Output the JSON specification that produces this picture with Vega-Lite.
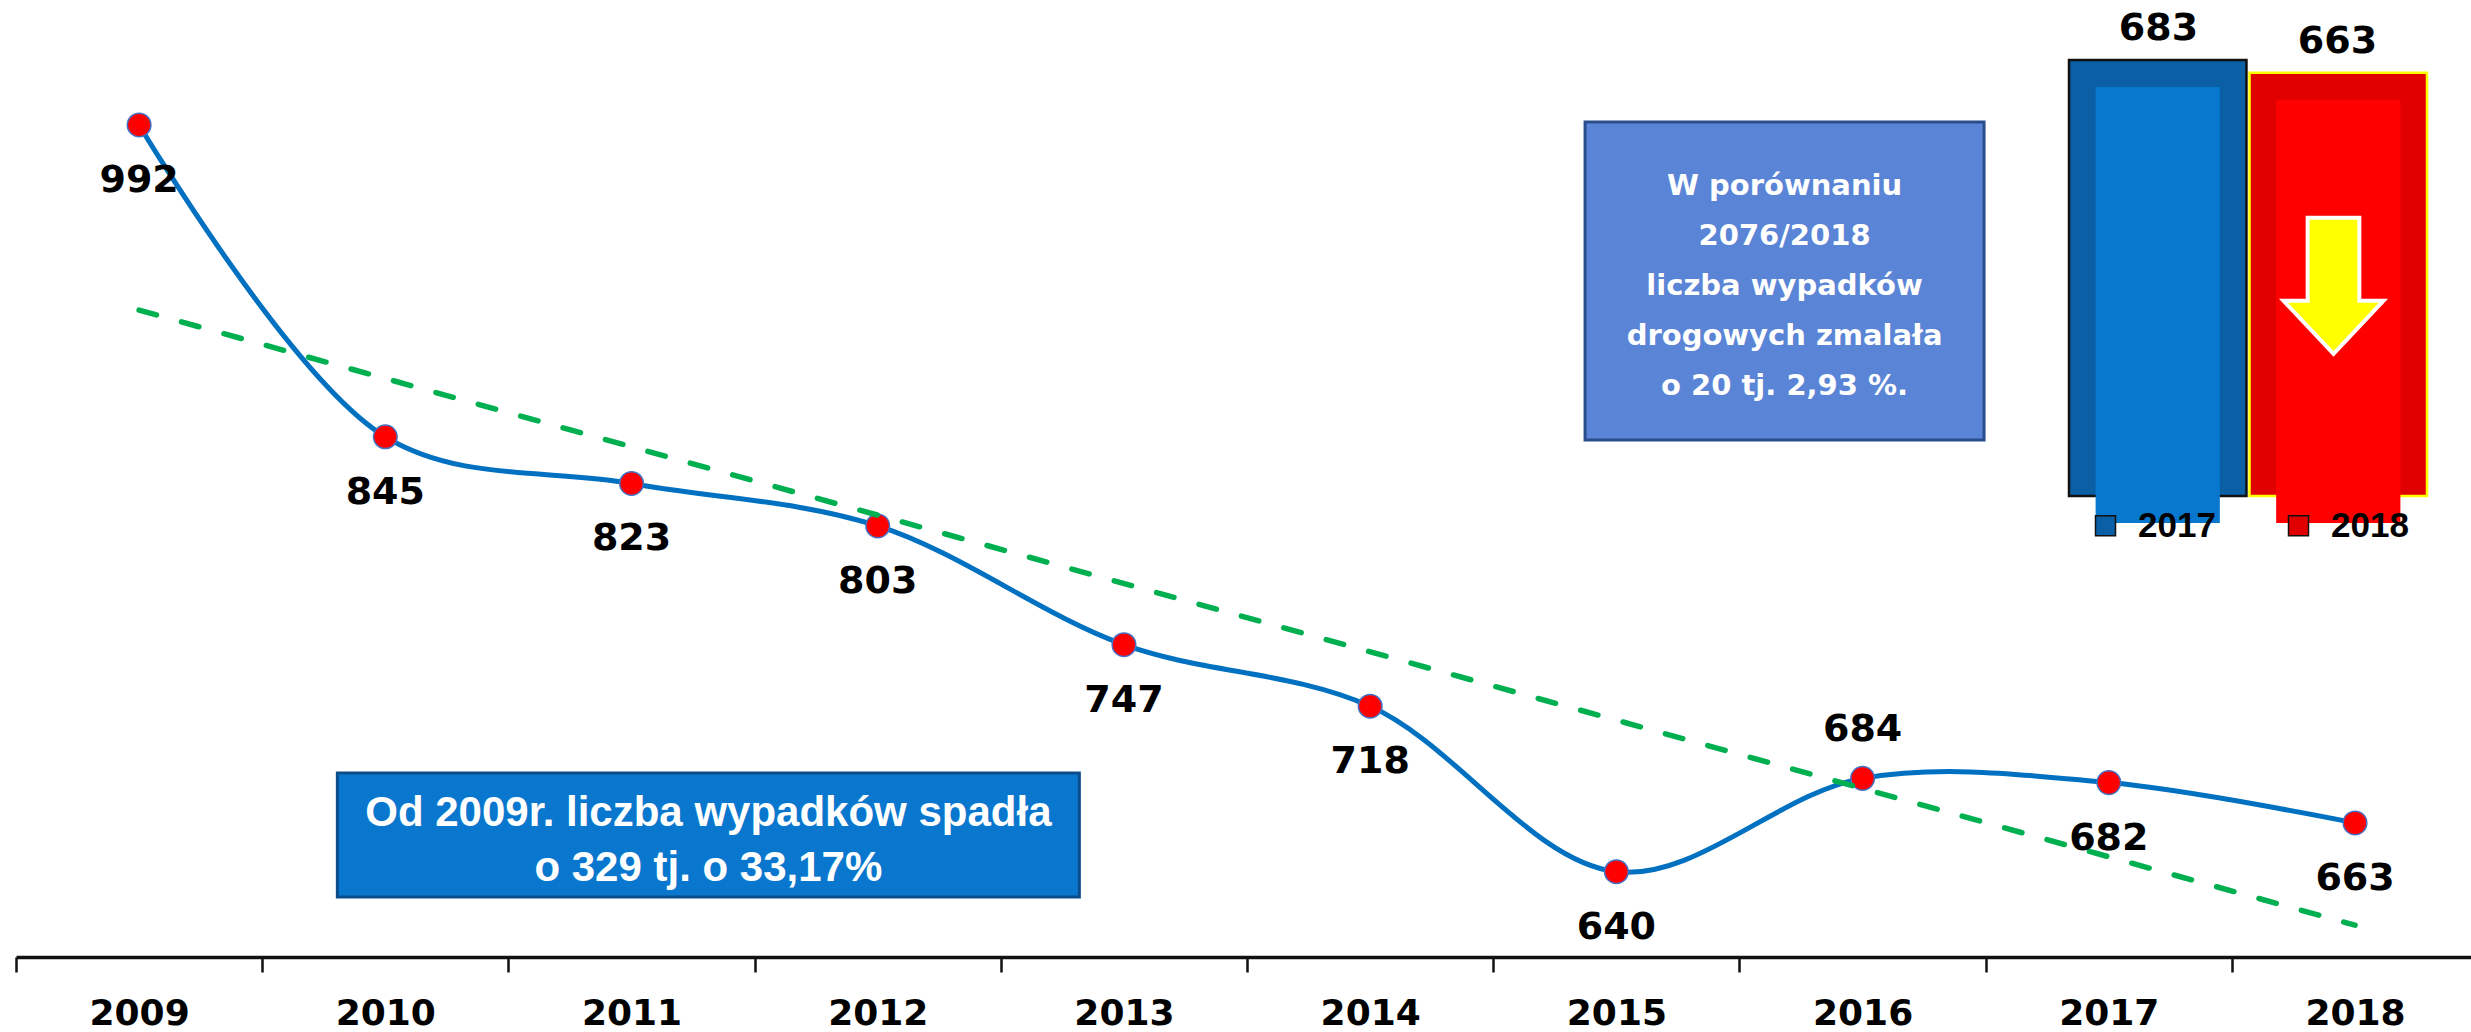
{
  "$schema": "https://vega.github.io/schema/vega-lite/v6.json",
  "width": 2455,
  "height": 957,
  "autosize": {"type": "none"},
  "padding": {"left": 16, "top": 0, "right": 0, "bottom": 75},
  "background": "white",
  "config": {"view": {"stroke": null}},
  "data": {"values": [
      {"rok": 2009, "wypadki": 992},
      {"rok": 2010, "wypadki": 845},
      {"rok": 2011, "wypadki": 823},
      {"rok": 2012, "wypadki": 803},
      {"rok": 2013, "wypadki": 747},
      {"rok": 2014, "wypadki": 718},
      {"rok": 2015, "wypadki": 640},
      {"rok": 2016, "wypadki": 684},
      {"rok": 2017, "wypadki": 682},
      {"rok": 2018, "wypadki": 663}
  ]},
  "layer": [
    {
      "data": {"values": [{"ramka": "spadek", "rok": 2011.312, "poziom": 657.3}]},
      "mark": {"type": "point", "shape": "M-1,-0.1671L1,-0.1671L1,0.1671L-1,0.1671Z", "size": 550564, "filled": true, "fill": "#0A77CE", "stroke": "#0B4C8A", "strokeWidth": 3, "opacity": 1, "strokeOpacity": 1},
      "encoding": {
        "x": {"field": "rok", "type": "quantitative", "scale": {"domain": [2008.5, 2018.471], "nice": false, "zero": false}, "axis": null},
        "y": {"field": "poziom", "type": "quantitative", "scale": {"domain": [599.8, 1050.9], "nice": false, "zero": false}, "axis": null}
      }
    },
    {
      "data": {"values": [{"ramka": "porownanie", "rok": 2015.683, "poziom": 918.5}]},
      "mark": {"type": "point", "shape": "M-1,-0.797L1,-0.797L1,0.797L-1,0.797Z", "size": 159201, "filled": true, "fill": "#5A84D6", "stroke": "#2A4E8C", "strokeWidth": 3, "opacity": 1, "strokeOpacity": 1},
      "encoding": {
        "x": {"field": "rok", "type": "quantitative", "scale": {"domain": [2008.5, 2018.471], "nice": false, "zero": false}, "axis": null},
        "y": {"field": "poziom", "type": "quantitative", "scale": {"domain": [599.8, 1050.9], "nice": false, "zero": false}, "axis": null}
      }
    },
    {
      "data": {"values": [{"ramka": "spadek", "rok": 2011.312, "poziom": 657.3, "tekst": "Od 2009r. liczba wypadków spadła\no 329 tj. o 33,17%"}]},
      "mark": {"type": "text", "lineBreak": "\n", "font": "Liberation Sans", "fontWeight": "bold", "fontSize": 42, "lineHeight": 55, "color": "white", "align": "center", "baseline": "middle", "dy": -22.5},
      "encoding": {
        "x": {"field": "rok", "type": "quantitative", "scale": {"domain": [2008.5, 2018.471], "nice": false, "zero": false}, "axis": null},
        "y": {"field": "poziom", "type": "quantitative", "scale": {"domain": [599.8, 1050.9], "nice": false, "zero": false}, "axis": null},
        "text": {"field": "tekst", "type": "nominal"}
      }
    },
    {
      "data": {"values": [{"ramka": "porownanie", "rok": 2015.683, "poziom": 918.5, "tekst": "W porównaniu\n2076/2018\nliczba wypadków\ndrogowych zmalała\no 20 tj. 2,93 %."}]},
      "mark": {"type": "text", "lineBreak": "\n", "font": "DejaVu Sans", "fontWeight": "bold", "fontSize": 29, "lineHeight": 50, "color": "white", "align": "center", "baseline": "middle", "dy": -95},
      "encoding": {
        "x": {"field": "rok", "type": "quantitative", "scale": {"domain": [2008.5, 2018.471], "nice": false, "zero": false}, "axis": null},
        "y": {"field": "poziom", "type": "quantitative", "scale": {"domain": [599.8, 1050.9], "nice": false, "zero": false}, "axis": null},
        "text": {"field": "tekst", "type": "nominal"}
      }
    },
    {
      "mark": {"type": "line", "color": "#0070C0", "strokeWidth": 5, "interpolate": "catmull-rom"},
      "encoding": {
        "x": {"field": "rok", "type": "quantitative",
          "scale": {"domain": [2008.5, 2018.471], "nice": false, "zero": false},
          "axis": {
            "values": [2008.5, 2009.5, 2010.5, 2011.5, 2012.5, 2013.5, 2014.5, 2015.5, 2016.5, 2017.5],
            "labelExpr": "'' + (datum.value + 0.5)",
            "labelOffset": 123.1,
            "domain": true, "domainColor": "#111111", "domainWidth": 3.5,
            "grid": false, "title": null,
            "tickSize": 15, "tickWidth": 2.5, "tickColor": "#111111",
            "labelPadding": 24,
            "labelFont": "DejaVu Sans", "labelFontWeight": "bold", "labelFontSize": 36, "labelColor": "#000000",
            "labelBaseline": "top", "labelAlign": "center", "labelOverlap": false, "labelFlush": false
          }},
        "y": {"field": "wypadki", "type": "quantitative",
          "scale": {"domain": [599.8, 1050.9], "nice": false, "zero": false}, "axis": null}
      }
    },
    {
      "mark": {"type": "point", "filled": true, "fill": "#FF0000", "stroke": "#4472C4", "strokeWidth": 1.5, "size": 556, "opacity": 1, "strokeOpacity": 1},
      "encoding": {
        "x": {"field": "rok", "type": "quantitative", "scale": {"domain": [2008.5, 2018.471], "nice": false, "zero": false}, "axis": null},
        "y": {"field": "wypadki", "type": "quantitative", "scale": {"domain": [599.8, 1050.9], "nice": false, "zero": false}, "axis": null}
      }
    },
    {
      "data": {"values": [{"rok": 2009, "trend": 904.7}, {"rok": 2018, "trend": 614.8}]},
      "mark": {"type": "line", "color": "#00B050", "strokeWidth": 5.5, "strokeDash": [18, 26], "strokeCap": "round"},
      "encoding": {
        "x": {"field": "rok", "type": "quantitative", "scale": {"domain": [2008.5, 2018.471], "nice": false, "zero": false}, "axis": null},
        "y": {"field": "trend", "type": "quantitative", "scale": {"domain": [599.8, 1050.9], "nice": false, "zero": false}, "axis": null}
      }
    },
    {
      "transform": [{"filter": "datum.rok != 2016"}],
      "mark": {"type": "text", "font": "DejaVu Sans", "fontWeight": "bold", "fontSize": 38, "dy": 56, "baseline": "middle", "align": "center", "color": "#000000"},
      "encoding": {
        "x": {"field": "rok", "type": "quantitative", "scale": {"domain": [2008.5, 2018.471], "nice": false, "zero": false}, "axis": null},
        "y": {"field": "wypadki", "type": "quantitative", "scale": {"domain": [599.8, 1050.9], "nice": false, "zero": false}, "axis": null},
        "text": {"field": "wypadki", "type": "quantitative"}
      }
    },
    {
      "transform": [{"filter": "datum.rok == 2016"}],
      "mark": {"type": "text", "font": "DejaVu Sans", "fontWeight": "bold", "fontSize": 38, "dy": -48, "baseline": "middle", "align": "center", "color": "#000000"},
      "encoding": {
        "x": {"field": "rok", "type": "quantitative", "scale": {"domain": [2008.5, 2018.471], "nice": false, "zero": false}, "axis": null},
        "y": {"field": "wypadki", "type": "quantitative", "scale": {"domain": [599.8, 1050.9], "nice": false, "zero": false}, "axis": null},
        "text": {"field": "wypadki", "type": "quantitative"}
      }
    },
    {
      "data": {"values": [{"rok": "2017", "liczba": 683}]},
      "mark": {"type": "bar", "stroke": "#111111", "strokeWidth": 2.5, "opacity": 1},
      "encoding": {
        "x": {"field": "rok", "type": "nominal", "scale": {"domain": ["2017", "2018"], "range": [2053, 2411], "paddingInner": 0.017, "paddingOuter": 0}, "axis": null},
        "y": {"field": "liczba", "type": "quantitative", "scale": {"domain": [0, 683], "range": [496, 60], "nice": false}, "axis": null},
        "color": {"field": "rok", "type": "nominal",
          "scale": {"domain": ["2017", "2018"], "range": ["#0B5FA5", "#E00000"]},
          "legend": {"orient": "none", "legendX": 2072, "legendY": 508, "direction": "horizontal", "title": null,
            "symbolType": "square", "symbolSize": 400, "symbolOpacity": 1,
            "labelFont": "Liberation Sans", "labelFontWeight": "bold", "labelFontSize": 35, "labelColor": "#000000",
            "labelOffset": 15, "columnPadding": 65, "padding": 0}}
      }
    },
    {
      "data": {"values": [{"rok": "2018", "liczba": 663}]},
      "mark": {"type": "bar", "stroke": "#FFFF00", "strokeWidth": 2.5, "opacity": 1},
      "encoding": {
        "x": {"field": "rok", "type": "nominal", "scale": {"domain": ["2017", "2018"], "range": [2053, 2411], "paddingInner": 0.017, "paddingOuter": 0}, "axis": null},
        "y": {"field": "liczba", "type": "quantitative", "scale": {"domain": [0, 683], "range": [496, 60], "nice": false}, "axis": null},
        "color": {"field": "rok", "type": "nominal"}
      }
    },
    {
      "data": {"values": [{"rok": "2017", "liczba": 683}]},
      "mark": {"type": "bar", "fill": "#0778CE", "width": {"band": 0.7}, "yOffset": 27, "y2Offset": 27},
      "encoding": {
        "x": {"field": "rok", "type": "nominal", "scale": {"domain": ["2017", "2018"], "range": [2053, 2411], "paddingInner": 0.017, "paddingOuter": 0}, "axis": null},
        "y": {"field": "liczba", "type": "quantitative", "scale": {"domain": [0, 683], "range": [496, 60], "nice": false}, "axis": null}
      }
    },
    {
      "data": {"values": [{"rok": "2018", "liczba": 663}]},
      "mark": {"type": "bar", "fill": "#FF0000", "width": {"band": 0.7}, "yOffset": 27, "y2Offset": 27},
      "encoding": {
        "x": {"field": "rok", "type": "nominal", "scale": {"domain": ["2017", "2018"], "range": [2053, 2411], "paddingInner": 0.017, "paddingOuter": 0}, "axis": null},
        "y": {"field": "liczba", "type": "quantitative", "scale": {"domain": [0, 683], "range": [496, 60], "nice": false}, "axis": null}
      }
    },
    {
      "data": {"values": [{"rok": "2017", "liczba": 683}, {"rok": "2018", "liczba": 663}]},
      "mark": {"type": "text", "font": "DejaVu Sans", "fontWeight": "bold", "fontSize": 38, "dy": -31, "baseline": "middle", "align": "center", "color": "#000000"},
      "encoding": {
        "x": {"field": "rok", "type": "nominal", "scale": {"domain": ["2017", "2018"], "range": [2053, 2411], "paddingInner": 0.017, "paddingOuter": 0}, "axis": null},
        "y": {"field": "liczba", "type": "quantitative", "scale": {"domain": [0, 683], "range": [496, 60], "nice": false}, "axis": null},
        "text": {"field": "liczba", "type": "quantitative"}
      }
    },
    {
      "data": {"values": [{"rok": "2018", "liczba": 663}]},
      "mark": {"type": "point", "shape": "M-0.38,-1L0.38,-1L0.38,0.22L0.735,0.22L0,1L-0.735,0.22L-0.38,0.22Z", "size": 18496, "filled": true, "fill": "#FFFF00", "stroke": "white", "strokeWidth": 4, "opacity": 1, "strokeOpacity": 1, "xOffset": -4, "yOffset": 213},
      "encoding": {
        "x": {"field": "rok", "type": "nominal", "scale": {"domain": ["2017", "2018"], "range": [2053, 2411], "paddingInner": 0.017, "paddingOuter": 0}, "axis": null},
        "y": {"field": "liczba", "type": "quantitative", "scale": {"domain": [0, 683], "range": [496, 60], "nice": false}, "axis": null}
      }
    }
  ],
  "resolve": {"scale": {"x": "independent", "y": "independent"}}
}
